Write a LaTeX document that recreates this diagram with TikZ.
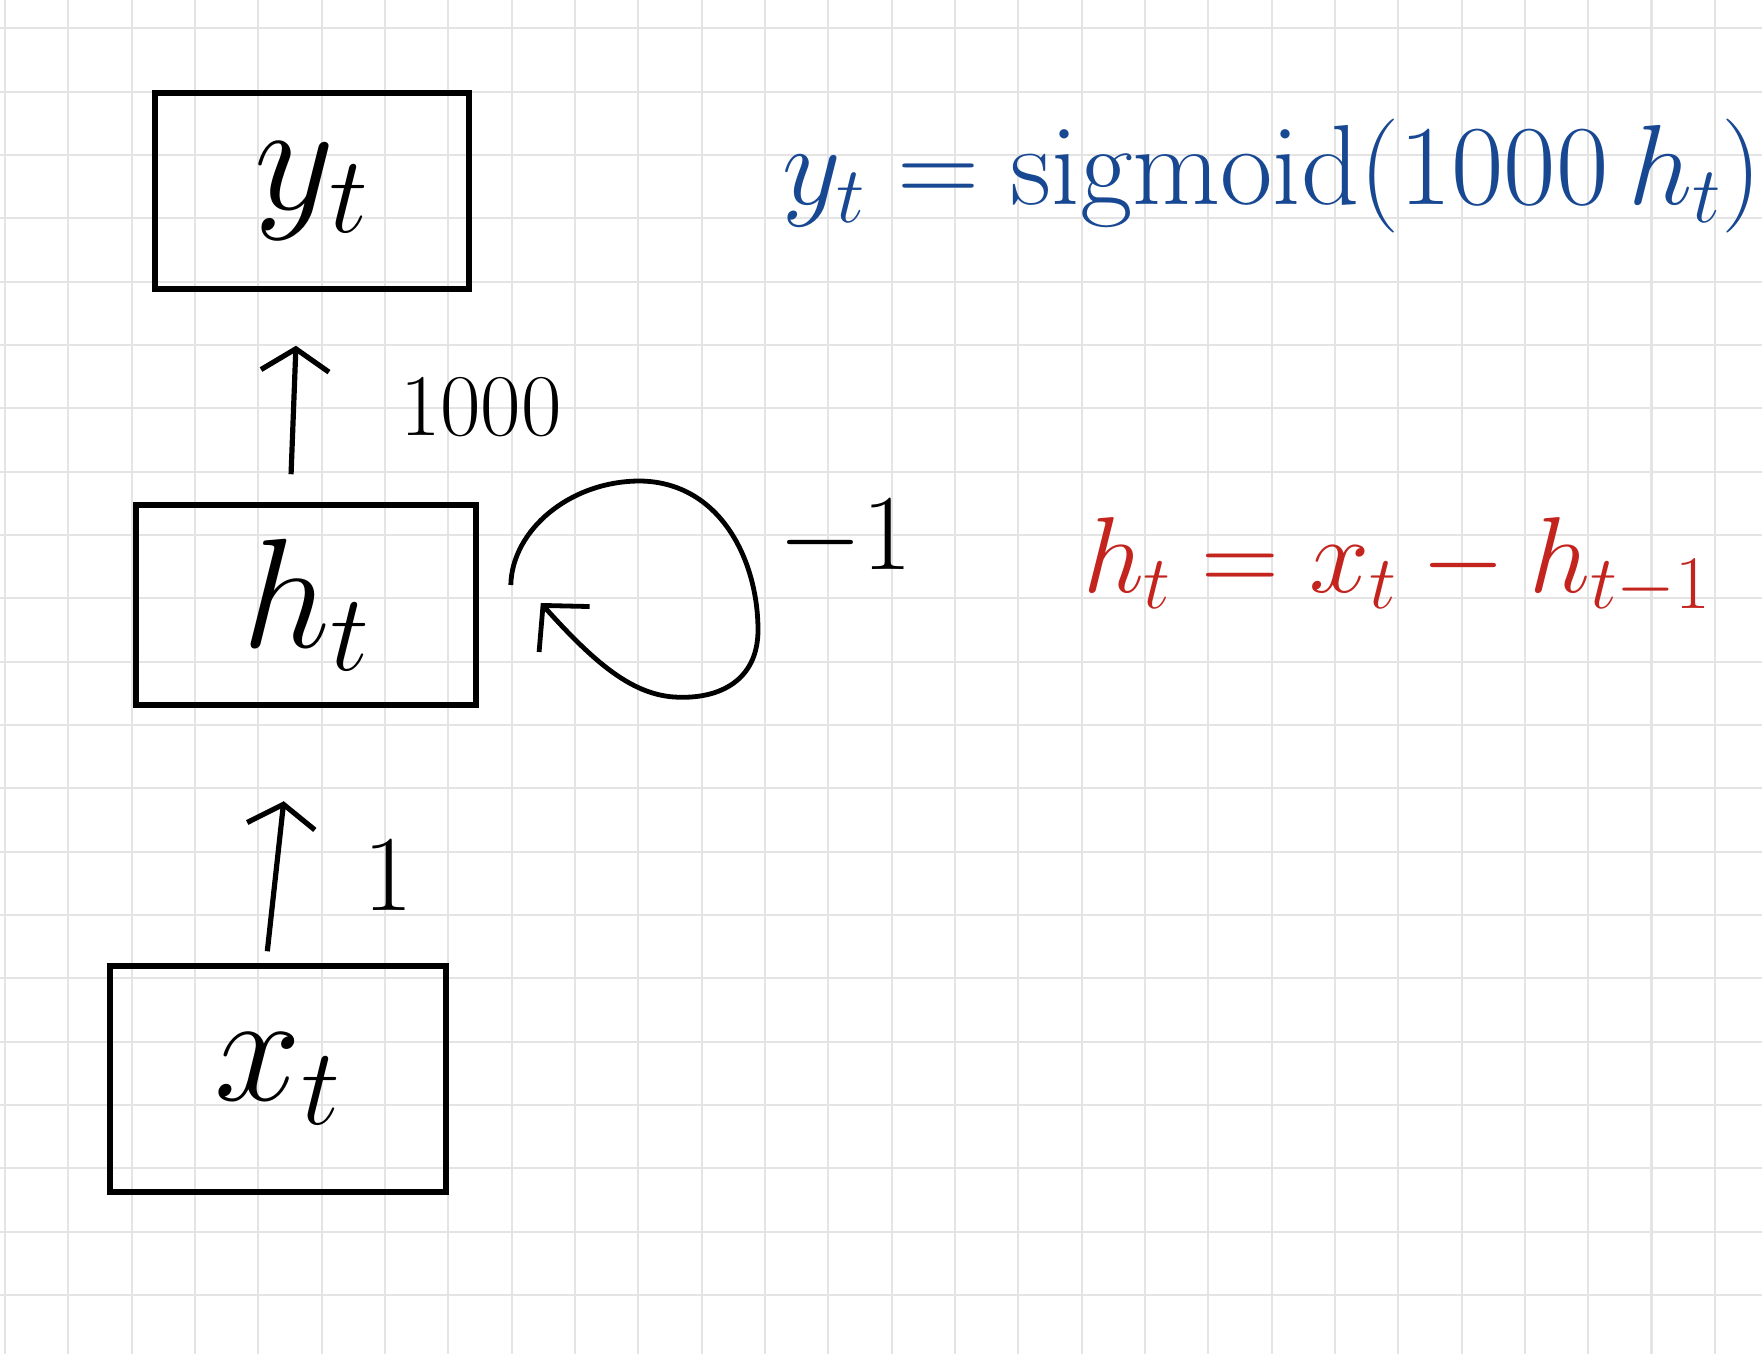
\RequirePackage{fix-cm}
\documentclass[tikz,border=0pt]{standalone}
\usetikzlibrary{arrows.meta}
\definecolor{penblue}{RGB}{24,72,146}
\definecolor{penred}{RGB}{196,36,30}
\definecolor{gridgray}{RGB}{228,228,228}
\newcommand{\penbig}{\fontsize{78}{86}\selectfont}
\newcommand{\penmid}{\fontsize{54}{60}\selectfont}
\newcommand{\pensmall}{\fontsize{44}{50}\selectfont}
\tikzset{
  cell/.style={draw=black, line width=2.8pt, font=\penbig},
  arr/.style={line width=2.6pt, -{Straight Barb[length=11pt,width=34pt]}},
  gridline/.style={gridgray, line width=1.1pt}
}

\begin{document}
\begin{tikzpicture}[x=0.5pt,y=-0.5pt]
\useasboundingbox (0,0) rectangle (1762,1354);
\fill[white] (0,0) rectangle (1762,1354);
\foreach \i in {0,...,27} \draw[gridline] ({5+63.33*\i},0) -- ({5+63.33*\i},1354);
\foreach \j in {0,...,20} \draw[gridline] (0,{28.33+63.33*\j}) -- (1762,{28.33+63.33*\j});
\node[cell, minimum width=157pt, minimum height=98pt] (yt) at (312,191) {$y_t$};
\node[cell, minimum width=170pt, minimum height=100pt] (ht) at (306,605) {$h_t$};
\node[cell, minimum width=168pt, minimum height=113pt] (xt) at (278,1079) {$x_t$};
\draw[arr, shorten <=14pt, shorten >=27pt] ([xshift=-8pt]ht.north) -- ([xshift=-7pt]yt.south);
\draw[arr, shorten <=6pt, shorten >=47pt] ([xshift=-6pt]xt.north) -- ([xshift=-6pt]ht.south);
\draw[line width=2.4pt, -{Straight Barb[length=16pt,width=34pt]}] ([shift={(16pt,10pt)}]ht.east)
  .. controls (512,530) and (570,481) .. (640,481)
  .. controls (720,482) and (758,560) .. (758,630)
  .. controls (758,680) and (720,700) .. (674,697)
  .. controls (630,694) and (592,660) .. ([shift={(31pt,1pt)}]ht.east);
\node[font=\pensmall] (w1000) at (481,407) {$1000$};
\node[font=\penmid] (w1) at (388,876) {$1$};
\node[font=\penmid] (wm1) at (845,539) {$-1$};
\node[font=\fontsize{57}{63}\selectfont, text=penblue, anchor=base west] (eqy) at (775,205) {$y_t = \mathrm{sigmoid}(1000\,h_t)$};
\node[font=\penmid, text=penred, anchor=base west] (eqh) at (1076,592) {$h_t = x_t - h_{t-1}$};
\end{tikzpicture}
\end{document}
